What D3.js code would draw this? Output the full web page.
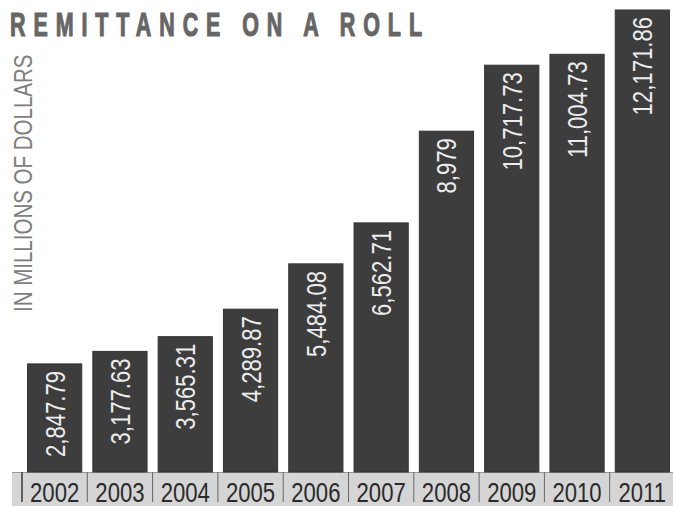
<!DOCTYPE html>
<html>
<head>
<meta charset="utf-8">
<script src="https://cdn.jsdelivr.net/npm/d3@7"></script>
<style>
  html, body { margin: 0; padding: 0; background: #ffffff; }
  svg { display: block; }
</style>
</head>
<body>
<svg id="chart" width="673" height="508"></svg>
<script>
// Annual remittance inflows, in millions of dollars
const years = ["2002", "2003", "2004", "2005", "2006", "2007", "2008", "2009", "2010", "2011"];
const values = [2847.79, 3177.63, 3565.31, 4289.87, 5484.08, 6562.71, 8979, 10717.73, 11004.73, 12171.86];
const valueLabels = ["2,847.79", "3,177.63", "3,565.31", "4,289.87", "5,484.08", "6,562.71", "8,979", "10,717.73", "11,004.73", "12,171.86"];
const title = "REMITTANCE ON A ROLL";
const unitLabel = "IN MILLIONS OF DOLLARS";

const W = 673, H = 508;
const plotLeft = 22, plotRight = 675, baseY = 472, topY = 10;
// Liberation Sans squeezed horizontally stands in for a narrow grotesque
const face = "'Liberation Sans', Arial, sans-serif";
const narrowX = 0.82;

const svg = d3.select("#chart");

const x = d3.scaleBand()
  .domain(years)
  .range([plotLeft, plotRight])
  .paddingInner(0.17)
  .paddingOuter(0.085);

const y = d3.scaleLinear()
  .domain([0, d3.max(values)])
  .range([baseY, topY]);

const data = years.map((yr, i) => ({ year: yr, value: values[i], label: valueLabels[i] }));

// Title: condensed heavy caps, tracked out to span the header
const titleScale = 0.64, titleWidth = 412;
const titleText = svg.append("text")
  .attr("transform", `translate(10,36) scale(${titleScale},1)`)
  .attr("fill", "#666666")
  .attr("stroke", "#666666")
  .attr("stroke-width", 1.2)
  .attr("font-family", face)
  .attr("font-weight", "bold")
  .attr("font-size", 33.5)
  .text(title);
const naturalW = titleText.node().getComputedTextLength();
const gaps = title.length - 1;
titleText.attr("letter-spacing", (titleWidth / titleScale - naturalW) / gaps);

// Unit label along the left side
svg.append("text")
  .attr("transform", `translate(32,312) rotate(-90) scale(${narrowX},1)`)
  .attr("fill", "#7e7e7e")
  .attr("font-family", face)
  .attr("font-size", 25)
  .text(unitLabel);

// Year strip along the bottom
svg.append("rect")
  .attr("x", 12)
  .attr("y", baseY)
  .attr("width", W - 12)
  .attr("height", 34)
  .attr("fill", "#d5d5d5");

svg.append("line")
  .attr("x1", 12).attr("x2", W)
  .attr("y1", baseY + 0.5).attr("y2", baseY + 0.5)
  .attr("stroke", "#9a9a9a")
  .attr("stroke-width", 1);

// Bars
svg.append("g")
  .selectAll("rect")
  .data(data)
  .join("rect")
  .attr("x", d => x(d.year))
  .attr("y", d => y(d.value))
  .attr("width", x.bandwidth())
  .attr("height", d => baseY - y(d.value))
  .attr("fill", "#3d3d3d")
  .attr("stroke", "#333333")
  .attr("stroke-width", 1);

// Value labels inside the bars, reading upward
svg.append("g")
  .selectAll("text")
  .data(data)
  .join("text")
  .attr("transform", d => `translate(${x(d.year) + x.bandwidth() / 2 + 10},${y(d.value) + 7}) rotate(-90) scale(${narrowX},1)`)
  .attr("text-anchor", "end")
  .attr("fill", "#ececec")
  .attr("font-family", face)
  .attr("font-size", 27)
  .text(d => d.label);

// Dividers between year cells
const step = x.step();
svg.append("g")
  .selectAll("line")
  .data(years)
  .join("line")
  .attr("x1", d => x(d) + x.bandwidth() / 2 - step / 2)
  .attr("x2", d => x(d) + x.bandwidth() / 2 - step / 2)
  .attr("y1", baseY)
  .attr("y2", baseY + 30)
  .attr("stroke", (d, i) => i === 0 ? "#3a3a3a" : "#666666")
  .attr("stroke-width", (d, i) => i === 0 ? 1.5 : 1);

// Year labels
svg.append("g")
  .selectAll("text")
  .data(years)
  .join("text")
  .attr("transform", d => `translate(${x(d) + x.bandwidth() / 2},${baseY + 30}) scale(${narrowX},1)`)
  .attr("text-anchor", "middle")
  .attr("fill", "#2a2a2a")
  .attr("font-family", face)
  .attr("font-size", 27)
  .text(d => d);
</script>
</body>
</html>
